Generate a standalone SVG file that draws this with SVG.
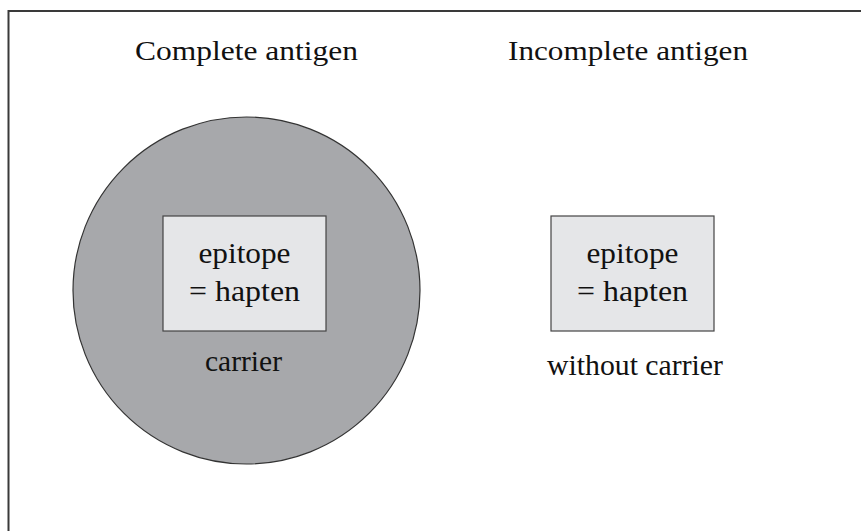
<svg xmlns="http://www.w3.org/2000/svg" width="861" height="531" viewBox="0 0 861 531">
<style>
text{font-family:"Liberation Serif","Times New Roman",serif;fill:#111;text-anchor:middle}
.t{font-size:28px}
.b{font-size:29px}
.box{fill:#e5e6e8;stroke:#444;stroke-width:1.2}
</style>
<rect width="861" height="531" fill="#fff"/>
<path d="M8.5 531 V11 H861" fill="none" stroke="#3a3a3a" stroke-width="2"/>
<g id="complete">
<text class="t" x="246.5" y="60" textLength="223" lengthAdjust="spacingAndGlyphs">Complete antigen</text>
<circle cx="246.5" cy="290.5" r="173.5" fill="#a7a8ab" stroke="#333" stroke-width="1.2"/>
<rect class="box" x="163" y="216" width="163" height="115"/>
<text class="b" x="244.5" y="263" textLength="92" lengthAdjust="spacingAndGlyphs">epitope</text>
<text class="b" x="244.5" y="301" textLength="111" lengthAdjust="spacingAndGlyphs">= hapten</text>
<text class="b" x="243.5" y="371" textLength="77" lengthAdjust="spacingAndGlyphs">carrier</text>
</g>
<g id="incomplete">
<text class="t" x="628" y="60" textLength="240" lengthAdjust="spacingAndGlyphs">Incomplete antigen</text>
<rect class="box" x="551" y="216" width="163" height="115"/>
<text class="b" x="632.5" y="263" textLength="92" lengthAdjust="spacingAndGlyphs">epitope</text>
<text class="b" x="632.5" y="301" textLength="111" lengthAdjust="spacingAndGlyphs">= hapten</text>
<text class="b" x="635" y="375" textLength="176" lengthAdjust="spacingAndGlyphs">without carrier</text>
</g>
<g id="connectors"/>
</svg>
